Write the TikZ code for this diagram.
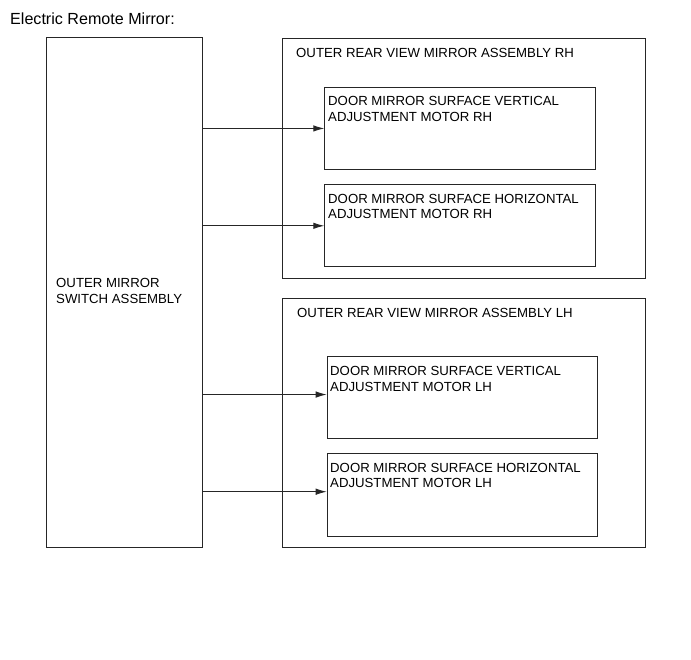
\documentclass[tikz,border=0pt]{standalone}
\usepackage{fontspec}
\setmainfont{Liberation Sans}
\usetikzlibrary{arrows.meta}
\begin{document}
\begin{tikzpicture}[x=1pt,y=-1pt,
  box/.style={draw=black!85,line width=1pt,inner sep=0pt,anchor=north west},
  lbl/.style={inner sep=0pt,anchor=base west,font=\fontsize{13.2}{15.7}\selectfont,align=left},
  arr/.style={draw=black!85,line width=0.9pt,-{Latex[length=11pt,width=6.5pt]}}]
\useasboundingbox (0,0) rectangle (691,660);
\node[lbl,font=\fontsize{16.1}{18}\selectfont] (title) at (10,25) {Electric Remote Mirror:};
% switch
\node[box,minimum width=156pt,minimum height=509pt] (sw) at (46,37.5) {};
\node[lbl] (swt) at (56,303.7) {OUTER MIRROR\\SWITCH ASSEMBLY};
% RH assembly
\node[box,minimum width=362.5pt,minimum height=240pt] (rh) at (282,38) {};
\node[lbl] (rht) at (296,58) {OUTER REAR VIEW MIRROR ASSEMBLY RH};
\node[box,minimum width=271pt,minimum height=82.5pt] (rhv) at (324.3,86.7) {};
\node[lbl] (rhvt) at (328,121.7) {DOOR MIRROR SURFACE VERTICAL\\ADJUSTMENT MOTOR RH};
\node[box,minimum width=271pt,minimum height=82pt] (rhh) at (324.3,184.3) {};
\node[lbl] (rhht) at (328,219) {DOOR MIRROR SURFACE HORIZONTAL\\ADJUSTMENT MOTOR RH};
% LH assembly
\node[box,minimum width=363pt,minimum height=248.5pt] (lh) at (282.3,298.3) {};
\node[lbl] (lht) at (297,317.5) {OUTER REAR VIEW MIRROR ASSEMBLY LH};
\node[box,minimum width=270pt,minimum height=81.7pt] (lhv) at (326.7,356) {};
\node[lbl] (lhvt) at (330,391.2) {DOOR MIRROR SURFACE VERTICAL\\ADJUSTMENT MOTOR LH};
\node[box,minimum width=270pt,minimum height=83pt] (lhh) at (326.7,452.7) {};
\node[lbl] (lhht) at (330,487.7) {DOOR MIRROR SURFACE HORIZONTAL\\ADJUSTMENT MOTOR LH};
% arrows
\draw[arr] (rhv.west -| sw.east) -- (rhv.west);
\draw[arr] (rhh.west -| sw.east) -- (rhh.west);
\draw[arr] ([yshift=2.8pt]lhv.west -| sw.east) -- ([yshift=2.8pt]lhv.west);
\draw[arr] ([yshift=3pt]lhh.west -| sw.east) -- ([yshift=3pt]lhh.west);
\end{tikzpicture}
\end{document}
